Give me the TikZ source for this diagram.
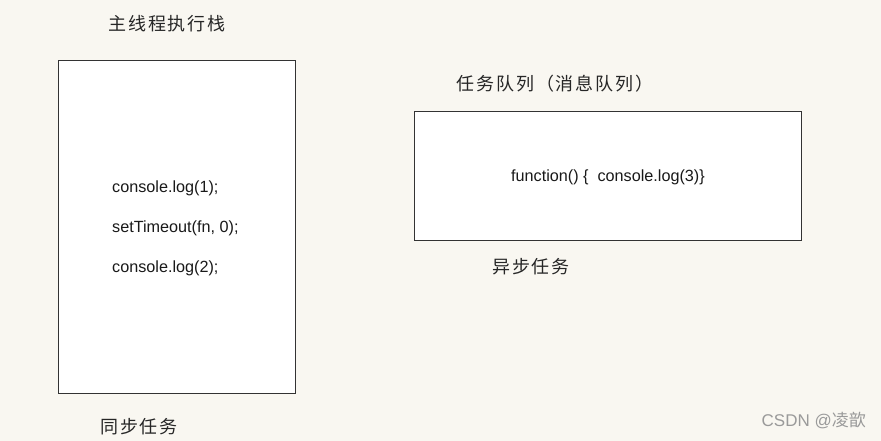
\documentclass[tikz,border=0pt]{standalone}
\usepackage{fontspec}
\setmainfont{Liberation Sans}
\newfontfamily\cjk[LetterSpace=10]{Noto Sans CJK SC}
\newfontfamily\cjkw{Noto Sans CJK SC}
\definecolor{bg}{HTML}{F9F7F1}
\definecolor{frame}{HTML}{333333}
\definecolor{wm}{HTML}{9A9A9A}
\tikzset{
  panel/.style={draw=frame, line width=1pt, fill=white, inner sep=0pt},
  codetxt/.style={inner sep=0pt, font=\fontsize{16.2}{19}\selectfont, text=black!90},
  cjktxt/.style={inner sep=0pt, font=\cjk\fontsize{18}{21}\selectfont, text=black!85},
}
\begin{document}
\begin{tikzpicture}[x=1pt,y=-1pt]
\fill[bg] (0,0) rectangle (881,441);
\useasboundingbox (0,0) rectangle (881,441);
\node[panel, minimum width=237pt, minimum height=332pt] (stack) at (176.5,227) {};
\node[panel, minimum width=387pt, minimum height=128pt] (queue) at (607.5,176) {};
\node[cjktxt] (stacktitle) at (167,24) {主线程执行栈};
\node[cjktxt] (queuetitle) at (555,84) {任务队列（消息队列）};
\node[cjktxt] (async) at (531,267) {异步任务};
\node[cjktxt] (sync) at (139,427) {同步任务};
\node[codetxt, anchor=west] (l1) at (112,188) {console.log(1);};
\node[codetxt, anchor=west] (l2) at (112,228) {setTimeout(fn, 0);};
\node[codetxt, anchor=west] (l3) at (112,268) {console.log(2);};
\node[codetxt] (fn) at (608,177) {function() \{\ \ console.log(3)\}};
\node[inner sep=0pt, text=wm, font=\fontsize{17}{20}\selectfont, anchor=east] (mark) at (866,421) {CSDN @{\cjkw 凌歆}};
\end{tikzpicture}
\end{document}
